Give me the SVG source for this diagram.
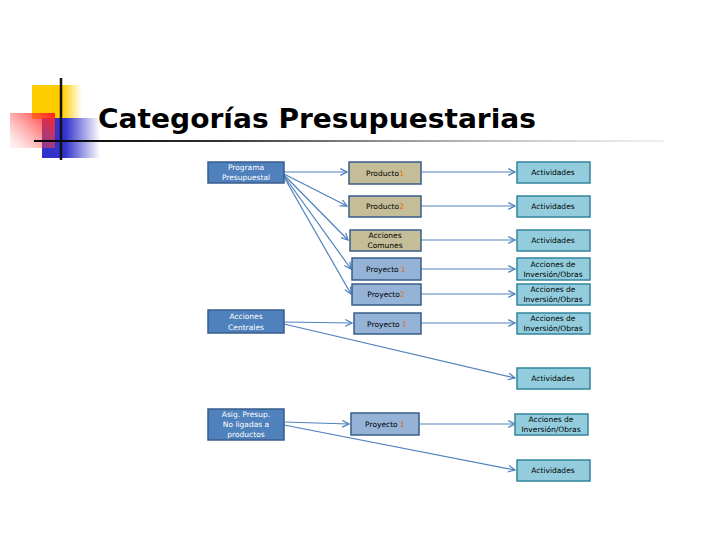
<svg xmlns="http://www.w3.org/2000/svg" width="720" height="540" viewBox="0 0 720 540">
<defs>
<linearGradient id="gy" x1="0" x2="1"><stop offset="0.6" stop-color="#ffcc00"/><stop offset="1" stop-color="#ffcc00" stop-opacity="0"/></linearGradient>
<linearGradient id="gb" x1="0" x2="1"><stop offset="0.4" stop-color="#3333cc"/><stop offset="1" stop-color="#3333cc" stop-opacity="0"/></linearGradient>
<linearGradient id="gr" x1="1" x2="0" y1="0" y2="0.8"><stop offset="0" stop-color="#ff2020"/><stop offset="1" stop-color="#ff6060" stop-opacity="0.1"/></linearGradient>
<linearGradient id="gl" x1="0" x2="1"><stop offset="0" stop-color="#000"/><stop offset="0.3" stop-color="#333"/><stop offset="1" stop-color="#ccc" stop-opacity="0.3"/></linearGradient>
<marker id="ar" viewBox="0 0 10 10" refX="9" refY="5" markerWidth="7" markerHeight="7" orient="auto"><path d="M1,1 L9,5 L1,9" fill="none" stroke="#4f81bd" stroke-width="1.5"/></marker>
</defs>
<style>
.l rect{fill:#4f81bd;stroke:#385d8a;stroke-width:1.5}
.p rect{fill:#c4bd97;stroke:#385d8a;stroke-width:1.5}
.q rect{fill:#95b3d7;stroke:#385d8a;stroke-width:1.5}
.r rect{fill:#93cddd;stroke:#31859c;stroke-width:1.5}
text{font-family:"DejaVu Sans","Liberation Sans",sans-serif;font-size:7.5px;text-anchor:middle}
.l text{fill:#fff}
.n{fill:#e46c0a}
#c line,#c path{stroke:#4f81bd;stroke-width:1.2;fill:none;marker-end:url(#ar)}
</style>
<rect width="720" height="540" fill="#fff"/>
<rect x="32" y="85" width="50" height="34" fill="url(#gy)"/>
<rect x="42" y="118" width="58" height="40" fill="url(#gb)"/>
<rect x="10" y="113" width="45" height="35" fill="url(#gr)"/>
<line x1="61" y1="78" x2="61" y2="160" stroke="#111" stroke-width="2.5"/>
<rect x="34" y="140" width="630" height="2" fill="url(#gl)"/>
<text x="98" y="128" textLength="438" lengthAdjust="spacingAndGlyphs" style="font-family:'DejaVu Sans','Liberation Sans',sans-serif;font-size:26px;font-weight:bold;text-anchor:start;fill:#000">Categorías Presupuestarias</text>
<g id="c">
<line x1="284" y1="172" x2="347" y2="172"/>
<line x1="284" y1="174" x2="347" y2="206"/>
<line x1="284" y1="175" x2="348" y2="240"/>
<line x1="284" y1="176" x2="351" y2="269"/>
<line x1="284" y1="177" x2="351" y2="294"/>
<line x1="284" y1="322" x2="352" y2="323"/>
<line x1="284" y1="324" x2="515" y2="378"/>
<line x1="284" y1="422" x2="349" y2="424"/>
<line x1="284" y1="425" x2="515" y2="470"/>
<line x1="421" y1="172" x2="515" y2="172"/>
<line x1="421" y1="206" x2="515" y2="206"/>
<line x1="421" y1="240" x2="515" y2="240"/>
<line x1="421" y1="269" x2="515" y2="269"/>
<line x1="421" y1="294" x2="515" y2="294"/>
<line x1="421" y1="323" x2="515" y2="323"/>
<line x1="419" y1="424" x2="515" y2="424"/>
</g>
<g id="n1" class="l"><rect x="208" y="162" width="76" height="21"/><text x="246" y="170">Programa</text><text x="246" y="180">Presupuestal</text></g>
<g id="n2" class="l"><rect x="208" y="310" width="76" height="23"/><text x="246" y="319">Acciones</text><text x="246" y="330">Centrales</text></g>
<g id="n3" class="l"><rect x="208" y="409" width="76" height="31"/><text x="246" y="417">Asig. Presup.</text><text x="246" y="427">No ligadas a</text><text x="246" y="437">productos</text></g>
<g id="m1" class="p"><rect x="349" y="162" width="72" height="22"/><text x="385" y="176">Producto<tspan class="n">1</tspan></text></g>
<g id="m2" class="p"><rect x="349" y="196" width="72" height="21"/><text x="385" y="209">Producto<tspan class="n">2</tspan></text></g>
<g id="m3" class="p"><rect x="350" y="230" width="71" height="21"/><text x="385" y="238">Acciones</text><text x="385" y="248">Comunes</text></g>
<g id="m4" class="q"><rect x="352" y="258" width="69" height="22"/><text x="386" y="272">Proyecto <tspan class="n">1</tspan></text></g>
<g id="m5" class="q"><rect x="352" y="284" width="69" height="21"/><text x="386" y="297">Proyecto<tspan class="n">2</tspan></text></g>
<g id="m6" class="q"><rect x="354" y="313" width="67" height="21"/><text x="387" y="327">Proyecto <tspan class="n">1</tspan></text></g>
<g id="m7" class="q"><rect x="351" y="413" width="68" height="22"/><text x="385" y="427">Proyecto <tspan class="n">1</tspan></text></g>
<g id="r1" class="r"><rect x="517" y="162" width="73" height="21"/><text x="553" y="175">Actividades</text></g>
<g id="r2" class="r"><rect x="517" y="196" width="73" height="21"/><text x="553" y="209">Actividades</text></g>
<g id="r3" class="r"><rect x="517" y="230" width="73" height="21"/><text x="553" y="243">Actividades</text></g>
<g id="r4" class="r"><rect x="517" y="258" width="73" height="22"/><text x="553" y="267">Acciones de</text><text x="553" y="277">Inversión/Obras</text></g>
<g id="r5" class="r"><rect x="517" y="284" width="73" height="21"/><text x="553" y="292">Acciones de</text><text x="553" y="302">Inversión/Obras</text></g>
<g id="r6" class="r"><rect x="517" y="313" width="73" height="21"/><text x="553" y="321">Acciones de</text><text x="553" y="331">Inversión/Obras</text></g>
<g id="r7" class="r"><rect x="517" y="368" width="73" height="21"/><text x="553" y="381">Actividades</text></g>
<g id="r8" class="r"><rect x="515" y="414" width="73" height="21"/><text x="551" y="422">Acciones de</text><text x="551" y="432">Inversión/Obras</text></g>
<g id="r9" class="r"><rect x="517" y="460" width="73" height="21"/><text x="553" y="473">Actividades</text></g>
</svg>
